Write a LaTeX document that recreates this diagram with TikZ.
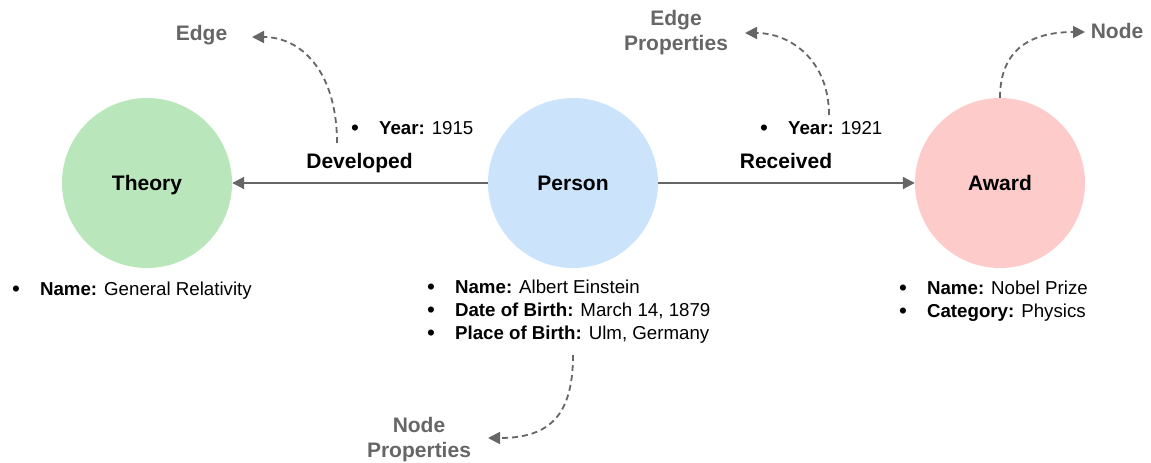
\documentclass[tikz,border=0pt]{standalone}
\usepackage{fontspec}
\setmainfont{Liberation Sans}
\usetikzlibrary{arrows.meta}

\definecolor{linkgray}{HTML}{666666}
\definecolor{theoryfill}{HTML}{B9E6BB}
\definecolor{personfill}{HTML}{CCE3FC}
\definecolor{awardfill}{HTML}{FECBCB}

\tikzset{
  entity/.style={circle, minimum size=170pt, inner sep=0pt,
    text height=15pt, text depth=0pt,
    font=\fontsize{21}{25}\selectfont\bfseries},
  rel/.style={draw=linkgray, line width=2pt,
    -{Triangle[length=12pt,width=12pt]}},
  callout/.style={draw=linkgray, line width=1.8pt, dash pattern=on 6pt off 4pt,
    -{Triangle[length=12pt,width=12pt]}},
  rellabel/.style={inner sep=0pt, font=\fontsize{21}{25}\selectfont\bfseries},
  tag/.style={rellabel, text=linkgray, align=center},
  props/.style={inner sep=0pt, anchor=base west,
    font=\fontsize{18.7}{23}\selectfont}
}
% a list item bullet, a little heavier than the text bullet
\newcommand{\itemdot}{\raisebox{-1pt}{\fontsize{22.5}{23}\selectfont\textbullet}}
\newcommand{\proplist}[1]{\begin{tabular}[t]{@{}l@{\hspace{20pt}}l@{}}#1\end{tabular}}

\begin{document}
\begin{tikzpicture}[x=1pt,y=-1pt]
\useasboundingbox (0,0) rectangle (1151,463);

% entities
\node[entity, fill=theoryfill] (theory) at (147,183) {Theory};
\node[entity, fill=personfill] (person) at (573,183) {Person};
\node[entity, fill=awardfill]  (award)  at (1000,183) {Award};

% relationships
\draw[rel] (person) -- (theory);
\draw[rel] (person) -- (award);
\node[rellabel, anchor=base] (developed) at (359.5,168) {Developed};
\node[rellabel, anchor=base] (received)  at (786,168) {Received};

% properties
\node[props] (yeardev) at (351,134) {\proplist{\itemdot & \textbf{Year:} 1915}};
\node[props] (yearrec) at (760,134) {\proplist{\itemdot & \textbf{Year:} 1921}};
\node[props] (theoryprops) at (12,295) {\proplist{\itemdot & \textbf{Name:} General Relativity}};
\node[props] (personprops) at (427,293.5) {\proplist{%
  \itemdot & \textbf{Name:} Albert Einstein\\
  \itemdot & \textbf{Date of Birth:} March 14, 1879\\
  \itemdot & \textbf{Place of Birth:} Ulm, Germany}};
\node[props] (awardprops) at (899,294) {\proplist{%
  \itemdot & \textbf{Name:} Nobel Prize\\
  \itemdot & \textbf{Category:} Physics}};

% explanatory tags
\node[tag, anchor=base] (edgetag) at (201.5,40) {Edge};
\node[tag] (edgeproptag) at (676,33) {Edge\\Properties};
\node[tag, anchor=base] (nodetag) at (1117,38) {Node};
\node[tag] (nodeproptag) at (419,440) {Node\\Properties};

\coordinate (edgefrom) at (337,143);
\coordinate (edgeto) at (252,37);
\coordinate (edgepropfrom) at (829,115);
\coordinate (edgepropto) at (745,33);
\coordinate (nodeto) at (1085,32);
\coordinate (nodepropfrom) at (573,355);
\coordinate (nodepropto) at (488,438);

\draw[callout] (edgefrom) .. controls (337,70) and (300,37) .. (edgeto);
\draw[callout] (edgepropfrom) .. controls (829,60) and (790,33) .. (edgepropto);
\draw[callout] (award.north) .. controls (1000,50) and (1030,32) .. (nodeto);
\draw[callout] (nodepropfrom) .. controls (573,415) and (550,438) .. (nodepropto);
\end{tikzpicture}
\end{document}
